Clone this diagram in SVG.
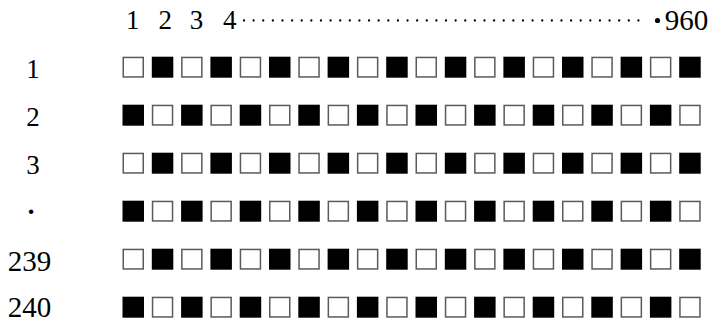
<svg xmlns="http://www.w3.org/2000/svg" xmlns:xlink="http://www.w3.org/1999/xlink" width="711" height="322" viewBox="0 0 711 322">
<style>
text{font-family:"Liberation Serif","DejaVu Serif",serif;fill:#000;text-anchor:middle}
.s{font-size:27px}
.l{font-size:29px}
.d{font-size:38px}
.w{fill:#fff;stroke:#5a5a5a;stroke-width:1.5}
.b{fill:#000}
</style>
<defs>
<rect id="w" class="w" x="0.75" y="0.75" width="20" height="19.5"/>
<rect id="b" class="b" x="0" y="0" width="21.5" height="21"/>
</defs>
<rect width="711" height="322" fill="#fff"/>
<g id="header">
<text class="s" x="132.8" y="29">1</text>
<text class="s" x="165.3" y="29">2</text>
<text class="s" x="196.5" y="29">3</text>
<text class="s" x="229.8" y="29">4</text>
<line x1="244" y1="20.5" x2="648" y2="20.5" stroke="#000" stroke-width="2.3" stroke-linecap="round" stroke-dasharray="0 9.62"/>
<circle cx="657.5" cy="20.5" r="2.6" fill="#000"/>
<text class="l" x="686.5" y="30">960</text>
</g>
<g id="connectors"></g>
<g id="row1" transform="translate(0,56.7)">
<text class="s" x="33" y="21">1</text>
<use href="#w" x="122.5"/><use href="#b" x="151.8"/><use href="#w" x="181.1"/><use href="#b" x="210.4"/><use href="#w" x="239.7"/><use href="#b" x="269"/><use href="#w" x="298.3"/><use href="#b" x="327.6"/><use href="#w" x="356.9"/><use href="#b" x="386.2"/><use href="#w" x="415.5"/><use href="#b" x="444.8"/><use href="#w" x="474.1"/><use href="#b" x="503.4"/><use href="#w" x="532.7"/><use href="#b" x="562"/><use href="#w" x="591.3"/><use href="#b" x="620.6"/><use href="#w" x="649.9"/><use href="#b" x="679.2"/>
</g>
<g id="row2" transform="translate(0,104.7)">
<text class="s" x="33" y="21">2</text>
<use href="#b" x="122.5"/><use href="#w" x="151.8"/><use href="#b" x="181.1"/><use href="#w" x="210.4"/><use href="#b" x="239.7"/><use href="#w" x="269"/><use href="#b" x="298.3"/><use href="#w" x="327.6"/><use href="#b" x="356.9"/><use href="#w" x="386.2"/><use href="#b" x="415.5"/><use href="#w" x="444.8"/><use href="#b" x="474.1"/><use href="#w" x="503.4"/><use href="#b" x="532.7"/><use href="#w" x="562"/><use href="#b" x="591.3"/><use href="#w" x="620.6"/><use href="#b" x="649.9"/><use href="#w" x="679.2"/>
</g>
<g id="row3" transform="translate(0,152.7)">
<text class="s" x="33" y="21">3</text>
<use href="#w" x="122.5"/><use href="#b" x="151.8"/><use href="#w" x="181.1"/><use href="#b" x="210.4"/><use href="#w" x="239.7"/><use href="#b" x="269"/><use href="#w" x="298.3"/><use href="#b" x="327.6"/><use href="#w" x="356.9"/><use href="#b" x="386.2"/><use href="#w" x="415.5"/><use href="#b" x="444.8"/><use href="#w" x="474.1"/><use href="#b" x="503.4"/><use href="#w" x="532.7"/><use href="#b" x="562"/><use href="#w" x="591.3"/><use href="#b" x="620.6"/><use href="#w" x="649.9"/><use href="#b" x="679.2"/>
</g>
<g id="row-dots" transform="translate(0,200.7)">
<text class="d" x="31" y="23">·</text>
<use href="#b" x="122.5"/><use href="#w" x="151.8"/><use href="#b" x="181.1"/><use href="#w" x="210.4"/><use href="#b" x="239.7"/><use href="#w" x="269"/><use href="#b" x="298.3"/><use href="#w" x="327.6"/><use href="#b" x="356.9"/><use href="#w" x="386.2"/><use href="#b" x="415.5"/><use href="#w" x="444.8"/><use href="#b" x="474.1"/><use href="#w" x="503.4"/><use href="#b" x="532.7"/><use href="#w" x="562"/><use href="#b" x="591.3"/><use href="#w" x="620.6"/><use href="#b" x="649.9"/><use href="#w" x="679.2"/>
</g>
<g id="row239" transform="translate(0,248.7)">
<text class="l" x="29.5" y="22">239</text>
<use href="#w" x="122.5"/><use href="#b" x="151.8"/><use href="#w" x="181.1"/><use href="#b" x="210.4"/><use href="#w" x="239.7"/><use href="#b" x="269"/><use href="#w" x="298.3"/><use href="#b" x="327.6"/><use href="#w" x="356.9"/><use href="#b" x="386.2"/><use href="#w" x="415.5"/><use href="#b" x="444.8"/><use href="#w" x="474.1"/><use href="#b" x="503.4"/><use href="#w" x="532.7"/><use href="#b" x="562"/><use href="#w" x="591.3"/><use href="#b" x="620.6"/><use href="#w" x="649.9"/><use href="#b" x="679.2"/>
</g>
<g id="row240" transform="translate(0,296.7)">
<text class="l" x="29.5" y="20.3">240</text>
<use href="#b" x="122.5"/><use href="#w" x="151.8"/><use href="#b" x="181.1"/><use href="#w" x="210.4"/><use href="#b" x="239.7"/><use href="#w" x="269"/><use href="#b" x="298.3"/><use href="#w" x="327.6"/><use href="#b" x="356.9"/><use href="#w" x="386.2"/><use href="#b" x="415.5"/><use href="#w" x="444.8"/><use href="#b" x="474.1"/><use href="#w" x="503.4"/><use href="#b" x="532.7"/><use href="#w" x="562"/><use href="#b" x="591.3"/><use href="#w" x="620.6"/><use href="#b" x="649.9"/><use href="#w" x="679.2"/>
</g>
</svg>
